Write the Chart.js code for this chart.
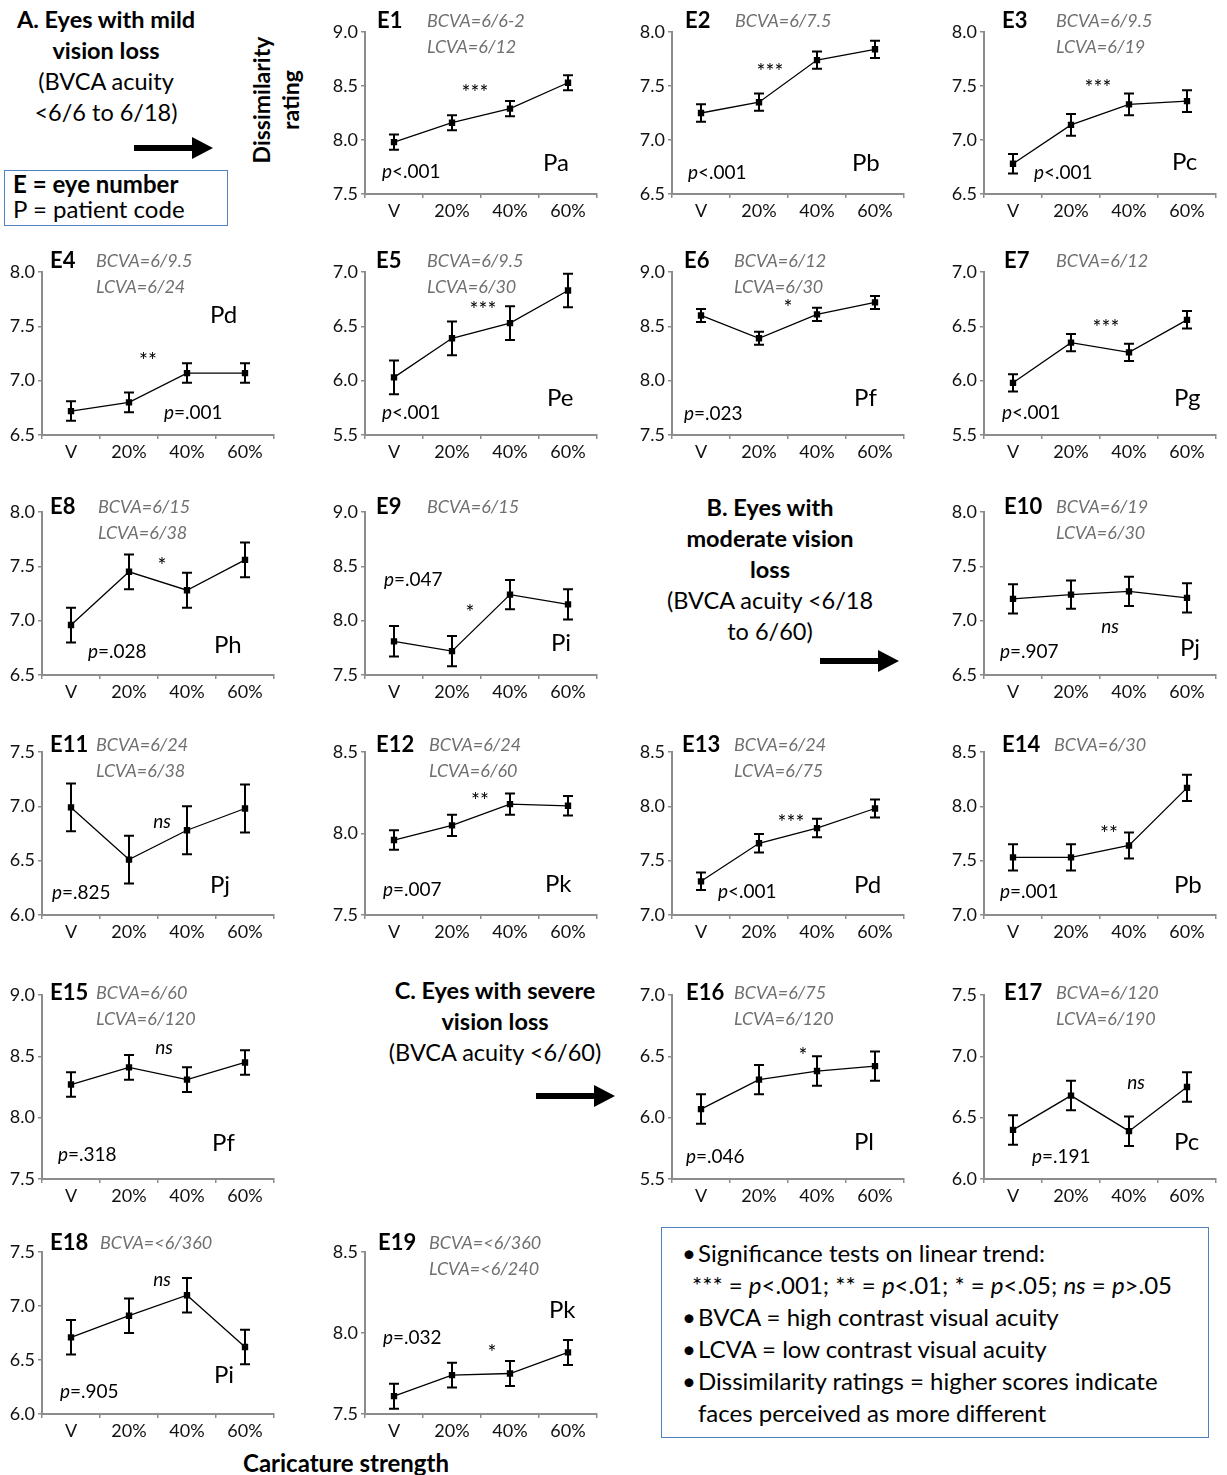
<!DOCTYPE html>
<html>
<head>
<meta charset="utf-8">
<script src="https://cdn.jsdelivr.net/npm/chart.js"></script>
<style>
    body { margin: 0; width: 1227px; height: 1475px; background: #fff; position: relative; font-family: Lato, "Open Sans", sans-serif; color: #000; overflow: hidden; }
    .panel { position: absolute; }
    .txt { position: absolute; font-size: 23.5px; line-height: 31px; text-align: center; white-space: nowrap; }
    .b { font-weight: bold; }
    .box { position: absolute; border: 1.5px solid #4f81bd; box-sizing: border-box; }
    .ylab { position: absolute; left: 276px; top: 100px; transform: translate(-50%, -50%) rotate(-90deg); font-size: 23px; font-weight: bold; line-height: 29px; text-align: center; white-space: nowrap; }
    .legend { font-size: 24px; line-height: 32px; padding: 9px 0 0 20px; white-space: nowrap; }
    .legend div { padding-left: 16px; }
    .legend .bul { margin-left: -16px; display: inline-block; width: 16px; }
</style>
</head>
<body>

<!-- section headings and notes -->
<div class="txt" style="left:6px; top:4px; width:200px;">
    <span class="b">A. Eyes with mild<br>vision loss</span><br>(BVCA acuity<br>&lt;6/6 to 6/18)
</div>
<svg style="position:absolute; left:134px; top:137px;" width="80" height="22"><path d="M0 8 H58 V0 L79 11 L58 22 V14 H0 Z" fill="#000"/></svg>

<div class="box" style="left:4px; top:170px; width:224px; height:56px;"></div>
<div class="txt" style="left:13px; top:171px; text-align:left; line-height:25px; font-size:24px;"><span class="b">E = eye number</span><br>P = patient code</div>

<div class="ylab">Dissimilarity<br>rating</div>

<div class="txt" style="left:660px; top:492px; width:220px;">
    <span class="b">B. Eyes with<br>moderate vision<br>loss</span><br>(BVCA acuity &lt;6/18<br>to 6/60)
</div>
<svg style="position:absolute; left:820px; top:650px;" width="80" height="22"><path d="M0 8 H58 V0 L79 11 L58 22 V14 H0 Z" fill="#000"/></svg>

<div class="txt" style="left:375px; top:975px; width:240px;">
    <span class="b">C. Eyes with severe<br>vision loss</span><br>(BVCA acuity &lt;6/60)
</div>
<svg style="position:absolute; left:536px; top:1085px;" width="80" height="22"><path d="M0 8 H58 V0 L79 11 L58 22 V14 H0 Z" fill="#000"/></svg>

<div class="txt b" style="left:196px; top:1447px; width:300px; font-size:24px;">Caricature strength</div>

<div class="box legend" style="left:661px; top:1227px; width:548px; height:211px;">
    <div><span class="bul">•</span>Significance tests on linear trend:</div>
    <div style="padding-left:10px;">*** = <i>p</i>&lt;.001; ** = <i>p</i>&lt;.01; * = <i>p</i>&lt;.05; <i>ns</i> = <i>p</i>&gt;.05</div>
    <div><span class="bul">•</span>BVCA = high contrast visual acuity</div>
    <div><span class="bul">•</span>LCVA = low contrast visual acuity</div>
    <div><span class="bul">•</span>Dissimilarity ratings = higher scores indicate<br>faces perceived as more different</div>
</div>

<script>
    // Caricature levels on the x axis
    const categories = ['V', '20%', '40%', '60%'];

    // One entry per eye
    const eyes = ['E1', 'E2', 'E3', 'E4', 'E5', 'E6', 'E7', 'E8', 'E9', 'E10',
                  'E11', 'E12', 'E13', 'E14', 'E15', 'E16', 'E17', 'E18', 'E19'];
    const patients = ['Pa', 'Pb', 'Pc', 'Pd', 'Pe', 'Pf', 'Pg', 'Ph', 'Pi', 'Pj',
                      'Pj', 'Pk', 'Pd', 'Pb', 'Pf', 'Pl', 'Pc', 'Pi', 'Pk'];
    const bcva = ['6/6-2', '6/7.5', '6/9.5', '6/9.5', '6/9.5', '6/12', '6/12', '6/15', '6/15', '6/19',
                  '6/24', '6/24', '6/24', '6/30', '6/60', '6/75', '6/120', '<6/360', '<6/360'];
    const lcva = ['6/12', null, '6/19', '6/24', '6/30', '6/30', null, '6/38', null, '6/30',
                  '6/38', '6/60', '6/75', null, '6/120', '6/120', '6/190', null, '<6/240'];
    const pValues = ['<.001', '<.001', '<.001', '=.001', '<.001', '=.023', '<.001', '=.028', '=.047', '=.907',
                     '=.825', '=.007', '<.001', '=.001', '=.318', '=.046', '=.191', '=.905', '=.032'];
    const trend = ['***', '***', '***', '**', '***', '*', '***', '*', '*', 'ns',
                   'ns', '**', '***', '**', 'ns', '*', 'ns', 'ns', '*'];

    // y axis range per eye
    const yMin = [7.5, 6.5, 6.5, 6.5, 5.5, 7.5, 5.5, 6.5, 7.5, 6.5, 6.0, 7.5, 7.0, 7.0, 7.5, 5.5, 6.0, 6.0, 7.5];
    const yMax = [9.0, 8.0, 8.0, 8.0, 7.0, 9.0, 7.0, 8.0, 9.0, 8.0, 7.5, 8.5, 8.5, 8.5, 9.0, 7.0, 7.5, 7.5, 8.5];

    // mean dissimilarity rating at V, 20%, 40%, 60%
    const means = [
        [7.98, 8.16, 8.29, 8.53],
        [7.25, 7.35, 7.74, 7.84],
        [6.78, 7.14, 7.33, 7.36],
        [6.72, 6.80, 7.07, 7.07],
        [6.03, 6.39, 6.53, 6.83],
        [8.60, 8.39, 8.61, 8.72],
        [5.98, 6.35, 6.26, 6.56],
        [6.96, 7.45, 7.28, 7.56],
        [7.81, 7.72, 8.24, 8.15],
        [7.20, 7.24, 7.27, 7.21],
        [6.99, 6.51, 6.78, 6.98],
        [7.96, 8.05, 8.18, 8.17],
        [7.31, 7.66, 7.80, 7.98],
        [7.53, 7.53, 7.64, 8.17],
        [8.27, 8.41, 8.31, 8.45],
        [6.07, 6.31, 6.38, 6.42],
        [6.40, 6.68, 6.39, 6.75],
        [6.71, 6.91, 7.10, 6.62],
        [7.61, 7.74, 7.75, 7.88]
    ];
    // error bar half-lengths
    const errors = [
        [0.07, 0.07, 0.07, 0.07],
        [0.08, 0.08, 0.08, 0.08],
        [0.09, 0.10, 0.10, 0.10],
        [0.09, 0.09, 0.09, 0.09],
        [0.155, 0.155, 0.155, 0.155],
        [0.06, 0.06, 0.06, 0.06],
        [0.08, 0.08, 0.08, 0.08],
        [0.16, 0.16, 0.16, 0.16],
        [0.14, 0.14, 0.135, 0.14],
        [0.135, 0.13, 0.135, 0.135],
        [0.22, 0.22, 0.22, 0.22],
        [0.06, 0.065, 0.065, 0.06],
        [0.08, 0.085, 0.085, 0.083],
        [0.12, 0.12, 0.12, 0.12],
        [0.10, 0.10, 0.10, 0.10],
        [0.12, 0.12, 0.12, 0.12],
        [0.12, 0.12, 0.12, 0.12],
        [0.16, 0.16, 0.16, 0.16],
        [0.077, 0.077, 0.077, 0.077]
    ];

    // Page layout: plot area grid and text offsets (px from plot's top-left corner)
    const colLeft = [42, 365, 672, 984];
    const rowTop = [32, 272, 512, 752, 995, 1252];
    const rowHeight = [162, 163, 163, 163, 184, 162];
    const plotWidth = 232;
    const layout = [
        { r: 0, c: 1, t: [12, -11], b: 62, s: [110, 58],  p: [17, 140], k: [178, 131] },
        { r: 0, c: 2, t: [13, -11], b: 63, s: [98, 37],   p: [16, 141], k: [180, 131] },
        { r: 0, c: 3, t: [18, -11], b: 72, s: [114, 53],  p: [50, 141], k: [188, 130] },
        { r: 1, c: 0, t: [8, -11],  b: 54, s: [106, 86],  p: [122, 141], k: [168, 43] },
        { r: 1, c: 1, t: [11, -11], b: 62, s: [118, 35],  p: [17, 141], k: [182, 126] },
        { r: 1, c: 2, t: [12, -11], b: 62, s: [116, 33],  p: [12, 142], k: [182, 126] },
        { r: 1, c: 3, t: [20, -11], b: 72, s: [122, 53],  p: [18, 141], k: [190, 126] },
        { r: 2, c: 0, t: [8, -5],   b: 56, s: [120, 51],  p: [46, 140], k: [172, 133] },
        { r: 2, c: 1, t: [11, -5],  b: 62, s: [105, 98],  p: [19, 68],  k: [186, 131] },
        { r: 2, c: 3, t: [20, -5],  b: 72, s: [126, 115], p: [16, 140], k: [196, 136] },
        { r: 3, c: 0, t: [8, -7],   b: 54, s: [120, 70],  p: [10, 141], k: [168, 133] },
        { r: 3, c: 1, t: [11, -7],  b: 64, s: [115, 46],  p: [18, 138], k: [180, 132] },
        { r: 3, c: 2, t: [10, -7],  b: 62, s: [119, 68],  p: [46, 140], k: [182, 133] },
        { r: 3, c: 3, t: [18, -7],  b: 70, s: [125, 79],  p: [16, 140], k: [190, 133] },
        { r: 4, c: 0, t: [8, -2],   b: 54, s: [122, 53],  p: [16, 160], k: [170, 148] },
        { r: 4, c: 2, t: [14, -2],  b: 62, s: [131, 58],  p: [14, 162], k: [182, 147] },
        { r: 4, c: 3, t: [20, -2],  b: 72, s: [152, 88],  p: [48, 162], k: [190, 147] },
        { r: 5, c: 0, t: [8, -9],   b: 58, s: [120, 28],  p: [18, 140], k: [172, 123] },
        { r: 5, c: 1, t: [13, -9],  b: 64, s: [127, 98],  p: [18, 86],  k: [184, 58] }
    ];

    const FONT = 'Lato, "Open Sans", sans-serif';
    const AXIS = '#8c8c8c';
    const PAD_TOP = 26, PAD_LEFT = 44, PAD_RIGHT = 8, AXIS_H = 32;

    // error bars and panel annotations
    const panelDecor = {
        id: 'panelDecor',
        afterDatasetsDraw(chart, args, opts) {
            const i = opts.index, lay = layout[i];
            const ctx = chart.ctx, area = chart.chartArea;
            const xs = chart.scales.x, ys = chart.scales.y;

            ctx.save();
            ctx.strokeStyle = '#000';
            ctx.lineWidth = 2;
            means[i].forEach((m, k) => {
                const px = xs.getPixelForValue(k);
                const hi = ys.getPixelForValue(m + errors[i][k]);
                const lo = ys.getPixelForValue(m - errors[i][k]);
                ctx.beginPath();
                ctx.moveTo(px, hi); ctx.lineTo(px, lo);
                ctx.moveTo(px - 5, hi); ctx.lineTo(px + 5, hi);
                ctx.moveTo(px - 5, lo); ctx.lineTo(px + 5, lo);
                ctx.stroke();
            });

            const L = area.left, T = area.top;
            ctx.textBaseline = 'middle';

            // eye number
            ctx.fillStyle = '#000';
            ctx.textAlign = 'left';
            ctx.font = 'bold 22px ' + FONT;
            ctx.fillText(eyes[i], L + lay.t[0], T + lay.t[1]);

            // acuities
            ctx.fillStyle = '#707070';
            ctx.font = 'italic 18px ' + FONT;
            ctx.fillText('BCVA=' + bcva[i], L + lay.b, T + lay.t[1]);
            if (lcva[i]) ctx.fillText('LCVA=' + lcva[i], L + lay.b, T + lay.t[1] + 26);

            // trend significance
            ctx.fillStyle = '#000';
            ctx.textAlign = 'center';
            if (trend[i] === 'ns') {
                ctx.font = 'italic 19px ' + FONT;
                ctx.fillText(trend[i], L + lay.s[0], T + lay.s[1]);
            } else {
                ctx.font = '21px ' + FONT;
                ctx.fillText(trend[i], L + lay.s[0], T + lay.s[1] + 3);
            }

            // p value, italic p
            ctx.textAlign = 'left';
            ctx.font = 'italic 19px ' + FONT;
            const pw = ctx.measureText('p').width;
            ctx.fillText('p', L + lay.p[0], T + lay.p[1]);
            ctx.font = '19px ' + FONT;
            ctx.fillText(pValues[i], L + lay.p[0] + pw, T + lay.p[1]);

            // patient code
            ctx.font = '24px ' + FONT;
            ctx.fillText(patients[i], L + lay.k[0], T + lay.k[1]);
            ctx.restore();
        }
    };

    eyes.forEach((eye, i) => {
        const lay = layout[i];
        const h = rowHeight[lay.r];
        const canvas = document.createElement('canvas');
        canvas.className = 'panel';
        canvas.width = PAD_LEFT + plotWidth + PAD_RIGHT;
        canvas.height = PAD_TOP + h + AXIS_H;
        canvas.style.left = (colLeft[lay.c] - PAD_LEFT) + 'px';
        canvas.style.top = (rowTop[lay.r] - PAD_TOP) + 'px';
        document.body.appendChild(canvas);

        new Chart(canvas, {
            type: 'line',
            data: {
                labels: categories,
                datasets: [{
                    data: means[i],
                    borderColor: '#000',
                    borderWidth: 1.3,
                    backgroundColor: '#000',
                    pointStyle: 'rect',
                    pointRadius: 4.5,
                    pointBorderWidth: 0,
                    tension: 0
                }]
            },
            options: {
                responsive: false,
                animation: false,
                devicePixelRatio: 1,
                layout: { padding: { top: PAD_TOP, right: PAD_RIGHT, left: 0, bottom: 0 } },
                plugins: {
                    legend: { display: false },
                    tooltip: { enabled: false },
                    panelDecor: { index: i }
                },
                scales: {
                    x: {
                        offset: true,
                        grid: { offset: true, drawOnChartArea: false, tickLength: 4, color: AXIS, lineWidth: 1.5 },
                        border: { color: AXIS, width: 2 },
                        ticks: { color: '#111', font: { family: FONT, size: 18 }, padding: 2, maxRotation: 0 },
                        afterFit: s => { s.height = AXIS_H; }
                    },
                    y: {
                        min: yMin[i],
                        max: yMax[i],
                        grid: { drawOnChartArea: false, tickLength: 4, color: AXIS, lineWidth: 1.5 },
                        border: { color: AXIS, width: 2 },
                        ticks: {
                            stepSize: 0.5,
                            color: '#111',
                            font: { family: FONT, size: 18 },
                            padding: 3,
                            callback: v => Number(v).toFixed(1)
                        },
                        afterFit: s => { s.width = PAD_LEFT; }
                    }
                }
            },
            plugins: [panelDecor]
        });
    });
</script>
</body>
</html>
